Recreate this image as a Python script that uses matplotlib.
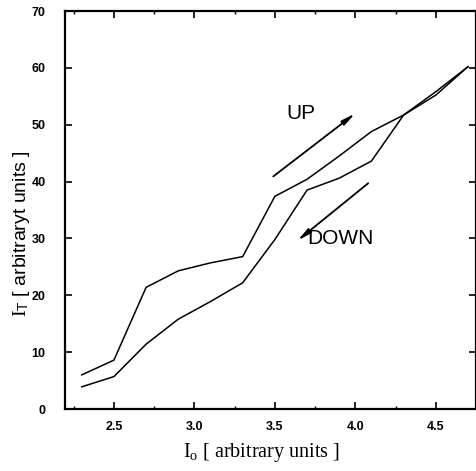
import matplotlib
matplotlib.use("Agg")
import matplotlib.pyplot as plt
from matplotlib.ticker import MultipleLocator

# Data
x_vals = [2.3, 2.5, 2.7, 2.9, 3.1, 3.3, 3.5, 3.7, 3.9, 4.1, 4.3, 4.5, 4.7]
upper_curve = [6.0, 8.6, 21.4, 24.3, 25.7, 26.8, 37.4, 40.4, 44.5, 48.8, 51.7, 55.8, 60.2]
lower_curve = [3.9, 5.7, 11.4, 15.8, 18.9, 22.2, 29.8, 38.5, 40.6, 43.6, 51.7, 55.2, 60.2]

x_ticks = [2.5, 3.0, 3.5, 4.0, 4.5]
y_ticks = [0, 10, 20, 30, 40, 50, 60, 70]

plt.rcParams['mathtext.fontset'] = 'custom'
plt.rcParams['mathtext.rm'] = 'Liberation Serif'
plt.rcParams['mathtext.sf'] = 'Liberation Sans'
plt.rcParams['mathtext.it'] = 'Liberation Serif:italic'

fig = plt.figure(figsize=(4.77, 4.71), dpi=100)
W, H = 477, 471
ax = fig.add_axes([65 / W, 1 - 409 / H, (476 - 65) / W, (409 - 11) / H])

ax.plot(x_vals, upper_curve, color='black', lw=1.1)
ax.plot(x_vals, lower_curve, color='black', lw=1.1)

ax.set_xlim(2.196, 4.75)
ax.set_ylim(0, 70)
ax.set_xticks(x_ticks)
ax.set_xticklabels(['2.5', '3.0', '3.5', '4.0', '4.5'])
ax.set_yticks(y_ticks)
ax.set_yticklabels([str(v) for v in y_ticks])
ax.xaxis.set_minor_locator(MultipleLocator(0.25))

for sp in ax.spines.values():
    sp.set_linewidth(1.6)

ax.tick_params(which='major', direction='in', length=5, width=1.2,
               top=True, right=True, labelsize=9, pad=9)
ax.tick_params(axis='y', which='major', pad=14)
ax.tick_params(which='minor', direction='in', length=2.5, width=1.0,
               top=True, right=True)
for lbl in ax.get_xticklabels() + ax.get_yticklabels():
    lbl.set_fontweight('bold')
    lbl.set_family('Liberation Sans')

# Arrows
arrow_kw = dict(arrowstyle='-|>,head_length=0.8,head_width=0.15', color='black', lw=1.3,
                shrinkA=0, shrinkB=0)
ax.annotate('', xy=(4.0, 52.0), xytext=(3.49, 40.9), arrowprops=arrow_kw)
ax.annotate('', xy=(3.64, 29.6), xytext=(4.08, 39.7), arrowprops=arrow_kw)

ax.text(3.665, 51.9, 'UP', fontsize=15, family='Liberation Sans', ha='center', va='center')
ax.text(3.91, 30.0, 'DOWN', fontsize=15, family='Liberation Sans', ha='center', va='center')

# Axis labels
fig.text(261 / W, 1 - 453 / H, r'I$_\mathrm{o}$ [ arbitrary units ]',
         fontsize=14.5, family='Liberation Serif', ha='center', va='center')
fig.text(22 / W, 1 - 234 / H, r'$\mathrm{I}_{\mathsf{T}}$ [ arbitraryt units ]',
         fontsize=14, family='Liberation Sans', ha='center', va='center', rotation=90)

fig.savefig('out.png', dpi=100)
